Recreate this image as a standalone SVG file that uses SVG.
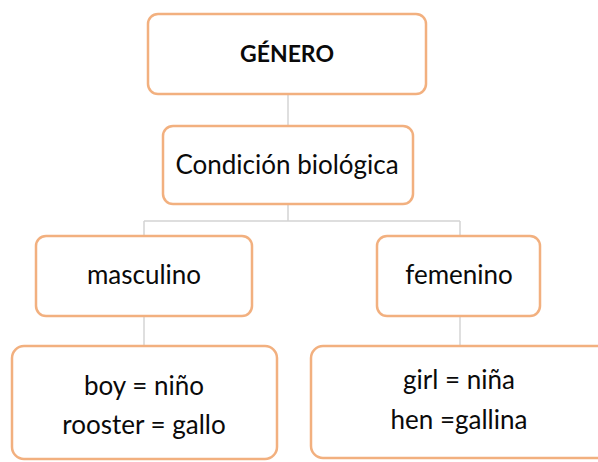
<svg xmlns="http://www.w3.org/2000/svg" width="598" height="462" viewBox="0 0 598 462">
<style>
.box{fill:#ffffff;stroke:#f2b07f;stroke-width:2.5}
.conn{fill:none;stroke:#d4d4d4;stroke-width:1.5}
text{font-family:Lato,"Open Sans",sans-serif;font-size:26px;fill:#0a0a0a;text-anchor:middle}
.b{font-weight:bold;font-size:23px}
</style>
<rect width="598" height="462" fill="#ffffff"/>
<g id="connectors">
<path class="conn" d="M288 94V126"/>
<path class="conn" d="M288 204V221M144 221H460M144 221V236M460 221V236"/>
<path class="conn" d="M144 316V346"/>
<path class="conn" d="M460 316V346"/>
</g>
<g id="genero">
<rect class="box" x="148" y="14" width="278" height="80" rx="10"/>
<text class="b" x="287" y="62">GÉNERO</text>
</g>
<g id="condicion">
<rect class="box" x="163" y="126" width="250" height="78" rx="10"/>
<text x="287" y="174">Condición biológica</text>
</g>
<g id="masculino">
<rect class="box" x="36" y="236" width="216" height="80" rx="10"/>
<text x="144" y="284">masculino</text>
</g>
<g id="femenino">
<rect class="box" x="377" y="236" width="163" height="80" rx="10"/>
<text x="459" y="284">femenino</text>
</g>
<g id="masc-ejemplos">
<rect class="box" x="12" y="346" width="265" height="113" rx="12"/>
<text x="144" y="395">boy = niño</text>
<text x="144" y="434">rooster = gallo</text>
</g>
<g id="fem-ejemplos">
<rect class="box" x="311" y="346" width="300" height="112" rx="12"/>
<text x="459" y="389">girl = niña</text>
<text x="459" y="429">hen =gallina</text>
</g>
</svg>
